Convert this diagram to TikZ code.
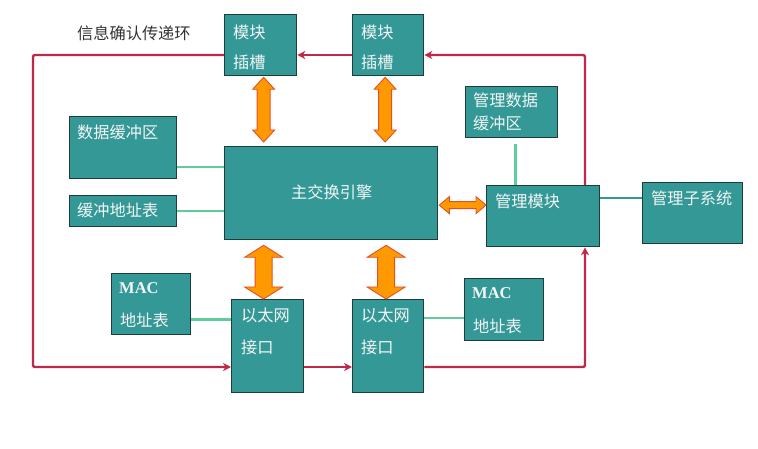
\documentclass[tikz,border=0pt]{standalone}
\usepackage{fontspec}
\newfontfamily\cjk{Noto Sans CJK SC}
\newfontfamily\latserif{Liberation Serif}
\usetikzlibrary{calc,arrows.meta}
\definecolor{boxfill}{RGB}{52,152,150}
\definecolor{boxline}{RGB}{30,62,62}
\definecolor{linkgreen}{RGB}{95,205,155}
\definecolor{linkteal}{RGB}{55,150,150}
\definecolor{loopred}{RGB}{192,40,72}
\definecolor{arrfill}{RGB}{255,153,0}
\definecolor{arrline}{RGB}{225,80,40}
\definecolor{txtwhite}{RGB}{242,246,246}
\tikzset{
  box/.style={draw=boxline, fill=boxfill, line width=1.3pt, inner sep=0pt, anchor=north west},
  lbl/.style={anchor=west, inner sep=0pt, text=txtwhite, font=\cjk\fontsize{16.2}{18}\selectfont},
  maclbl/.style={anchor=west, inner sep=0pt, text=txtwhite, font=\latserif\bfseries\fontsize{16.5}{18}\selectfont},
  title/.style={anchor=west, inner sep=0pt, text=black!80, font=\cjk\fontsize{16.2}{18}\selectfont},
  greenlink/.style={draw=linkgreen, line width=2.4pt},
  teallink/.style={draw=linkteal, line width=2.4pt},
  loop/.style={draw=loopred, line width=2.4pt, rounded corners=2pt, -{Stealth[length=8pt,width=8pt,inset=2.5pt]}},
  blockarrow/.style={fill=arrfill, draw=arrline, line width=0.9pt, line join=miter}
}
% vertical double block arrow: #1 top point (x used), #2 bottom point (y used), #3 shaft half width, #4 head half width, #5 head length
\newcommand{\vdblarrow}[5]{%
  \filldraw[blockarrow] let \p1=(#1), \p2=(#2) in
    (\x1,\y1) -- (\x1+#4,\y1-#5) -- (\x1+#3,\y1-#5) -- (\x1+#3,\y2+#5) -- (\x1+#4,\y2+#5)
    -- (\x1,\y2) -- (\x1-#4,\y2+#5) -- (\x1-#3,\y2+#5) -- (\x1-#3,\y1-#5) -- (\x1-#4,\y1-#5) -- cycle;}
% horizontal double block arrow: #1 left point (x,y used), #2 right point (x used)
\newcommand{\hdblarrow}[5]{%
  \filldraw[blockarrow] let \p1=(#1), \p2=(#2) in
    (\x1,\y1) -- (\x1+#5,\y1+#4) -- (\x1+#5,\y1+#3) -- (\x2-#5,\y1+#3) -- (\x2-#5,\y1+#4)
    -- (\x2,\y1) -- (\x2-#5,\y1-#4) -- (\x2-#5,\y1-#3) -- (\x1+#5,\y1-#3) -- (\x1+#5,\y1-#4) -- cycle;}
\begin{document}
\begin{tikzpicture}[x=1pt,y=-1pt]
\useasboundingbox (0,0) rectangle (758,449);

% boxes
\node[box, minimum width=72pt, minimum height=61pt] (slot1) at (224,14) {};
\node[box, minimum width=71pt, minimum height=61pt] (slot2) at (352,14) {};
\node[box, minimum width=107pt, minimum height=62pt] (databuf) at (69,116) {};
\node[box, minimum width=107pt, minimum height=31pt] (bufaddr) at (69,195) {};
\node[box, minimum width=213pt, minimum height=93pt] (engine) at (224,146) {};
\node[box, minimum width=92pt, minimum height=51pt] (mgmtbuf) at (465,86) {};
\node[box, minimum width=113pt, minimum height=61pt] (mgmt) at (486,185) {};
\node[box, minimum width=100pt, minimum height=61pt] (subsys) at (642,182) {};
\node[box, minimum width=79pt, minimum height=61pt] (macL) at (111,273) {};
\node[box, minimum width=72pt, minimum height=93pt] (ethL) at (231,299) {};
\node[box, minimum width=71pt, minimum height=93pt] (ethR) at (352,299) {};
\node[box, minimum width=79pt, minimum height=62pt] (macR) at (464,278) {};

% labels
\node[title] (ttl) at (77,33) {信息确认传递环};
\node[lbl] (t1a) at (233,32) {模块};
\node[lbl] (t1b) at (233,62) {插槽};
\node[lbl] (t2a) at (361,32) {模块};
\node[lbl] (t2b) at (361,62) {插槽};
\node[lbl] (t3) at (77,132) {数据缓冲区};
\node[lbl] (t4) at (77,210) {缓冲地址表};
\node[lbl] (t5) at (291,192) {主交换引擎};
\node[lbl] (t6a) at (473,100) {管理数据};
\node[lbl] (t6b) at (473,123) {缓冲区};
\node[lbl] (t7) at (495,201) {管理模块};
\node[lbl] (t8) at (651,198) {管理子系统};
\node[maclbl] (t9a) at (119,288) {MAC};
\node[lbl] (t9b) at (120,320) {地址表};
\node[lbl] (t10a) at (241,315) {以太网};
\node[lbl] (t10b) at (241,347) {接口};
\node[lbl] (t11a) at (361,315) {以太网};
\node[lbl] (t11b) at (361,347) {接口};
\node[maclbl] (t12a) at (472,293) {MAC};
\node[lbl] (t12b) at (473,326) {地址表};

% green / teal links
\draw[greenlink] ($(databuf.south east)+(0,-12)$) coordinate (g1) -- (g1 -| engine.west);
\draw[greenlink] (bufaddr.east) -- (bufaddr.east -| engine.west);
\draw[greenlink] ($(mgmtbuf.south)+(4,6)$) coordinate (g3) -- (g3 |- mgmt.north);
\draw[teallink] ($(mgmt.north east)+(0,13)$) coordinate (g4) -- (g4 -| subsys.west);
\draw[greenlink] ($(macL.south east)+(0,-16)$) coordinate (g5) -- (g5 -| ethL.west);
\draw[greenlink] ($(ethR.north east)+(0,19)$) coordinate (g6) -- (g6 -| macR.west);

% red loop
\coordinate (TL) at (33,55);
\coordinate (TR) at (585,55);
\coordinate (BL) at (33,367);
\coordinate (BR) at (585,367);
\draw[loop] (TL -| slot1.west) -- (TL) -- (BL) -- (BL -| ethL.west);
\draw[loop] (BL -| ethL.east) -- (BL -| ethR.west);
\draw[loop] (BR -| ethR.east) -- (BR) -- (BR |- mgmt.south);
\draw[loop] (TR |- mgmt.north) -- (TR) -- (TR -| slot2.east);
\draw[loop] (TL -| slot2.west) -- (TL -| slot1.east);

% orange double arrows
\vdblarrow{$(slot1.south)+(3,1)$}{$(engine.north)+(0,-4)$}{6.5pt}{11pt}{12pt}
\vdblarrow{$(slot2.south)+(-3,1)$}{$(engine.north)+(0,-4)$}{6.5pt}{11pt}{12pt}
\vdblarrow{$(ethL.north |- engine.south)+(-4,5)$}{$(ethL.north)+(0,0)$}{8.5pt}{19pt}{12pt}
\vdblarrow{$(ethR.north |- engine.south)+(-2,5)$}{$(ethR.north)+(0,0)$}{8.5pt}{19pt}{12pt}
\hdblarrow{$(engine.east)+(1,12)$}{$(mgmt.west)+(0,0)$}{3.5pt}{8.5pt}{10pt}
\end{tikzpicture}
\end{document}
